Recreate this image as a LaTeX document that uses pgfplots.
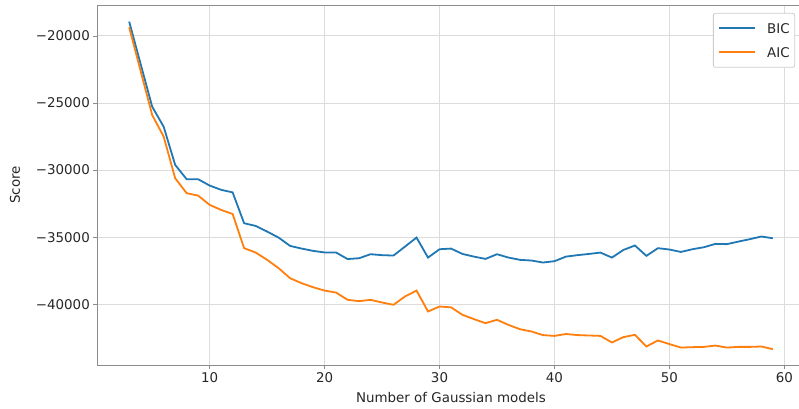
\documentclass[border=0pt]{standalone}
\usepackage{fontspec}
\setmainfont{DejaVu Sans}
\usepackage{pgfplots}
\pgfplotsset{compat=1.18}
\usepackage{pgfplotstable}
\definecolor{tabblue}{RGB}{31,119,180}
\definecolor{taborange}{RGB}{255,127,14}
\definecolor{gridgray}{RGB}{220,220,220}
\definecolor{spinegray}{RGB}{140,140,140}
\pgfplotstableread{
x bic aic
3 -18930 -19350
4 -22100 -22620
5 -25270 -25890
6 -26760 -27500
7 -29610 -30600
8 -30680 -31720
9 -30680 -31900
10 -31150 -32590
11 -31470 -32970
12 -31660 -33270
13 -33960 -35820
14 -34160 -36140
15 -34580 -36690
16 -35030 -37310
17 -35650 -38060
18 -35850 -38430
19 -36020 -38730
20 -36140 -38980
21 -36140 -39130
22 -36630 -39670
23 -36570 -39770
24 -36270 -39670
25 -36340 -39870
26 -36370 -40040
27 -35700 -39420
28 -35030 -38980
29 -36520 -40540
30 -35900 -40170
31 -35850 -40230
32 -36250 -40790
33 -36450 -41110
34 -36620 -41410
35 -36270 -41160
36 -36520 -41540
37 -36690 -41860
38 -36740 -42030
39 -36890 -42300
40 -36790 -42360
41 -36450 -42220
42 -36340 -42300
43 -36250 -42330
44 -36150 -42360
45 -36520 -42850
46 -35950 -42450
47 -35620 -42280
48 -36390 -43150
49 -35820 -42700
50 -35920 -42970
51 -36100 -43230
52 -35900 -43200
53 -35750 -43180
54 -35500 -43080
55 -35520 -43230
56 -35330 -43180
57 -35150 -43180
58 -34950 -43150
59 -35080 -43350
}\datatable
\begin{document}
\fontsize{13.4}{16}\selectfont
\begin{tikzpicture}
\useasboundingbox (-97pt,-43pt) rectangle (702pt,365pt);
\clip (-97pt,-43pt) rectangle (702pt,365pt);
\begin{axis}[
  scale only axis,
  width=708pt, height=360pt,
  xmin=0.2, xmax=61.8,
  ymin=-44530, ymax=-17690,
  xtick={10,20,30,40,50,60},
  xticklabels={10,20,30,40,50,60},
  ytick={-40000,-35000,-30000,-25000,-20000},
  yticklabels={−40000,−35000,−30000,−25000,−20000},
  tick align=outside,
  major tick length=3.5pt,
  tick style={spinegray, line width=0.8pt},
  xtick pos=bottom, ytick pos=left,
  axis line style={spinegray, line width=0.8pt},
  grid=major,
  major grid style={gridgray, line width=1pt},
  ticklabel style={font=\fontsize{13.4}{16}\selectfont, text=black!85},
  xticklabel style={inner sep=0pt, yshift=-3.5pt},
  yticklabel style={inner sep=0pt, xshift=-3.5pt},
  xlabel={Number of Gaussian models},
  ylabel={Score},
  label style={font=\fontsize{13.4}{16}\selectfont, text=black!85},
  xlabel style={at={(axis description cs:0.5,0)}, anchor=center, yshift=-32pt},
  ylabel style={at={(axis description cs:-0.1158,0.5)}, anchor=center},
  legend cell align=left,
  legend image code/.code={\draw[#1] (0pt,0pt) -- (36pt,0pt);},
  legend style={at={(0.986,0.978)}, anchor=north east,
    draw=black!20, rounded corners=2pt, fill=white, line width=0.8pt,
    font=\fontsize{13.4}{16}\selectfont, text=black!85,
    nodes={inner sep=0pt, text height=10pt, text depth=0pt},
    inner xsep=5pt, inner ysep=10pt, row sep=14pt, column sep=11pt},
]
\addplot[tabblue, line width=1.8pt] table[x=x, y=bic] {\datatable};
\addlegendentry{BIC}
\addplot[taborange, line width=1.8pt] table[x=x, y=aic] {\datatable};
\addlegendentry{AIC}
\end{axis}
\end{tikzpicture}
\end{document}
